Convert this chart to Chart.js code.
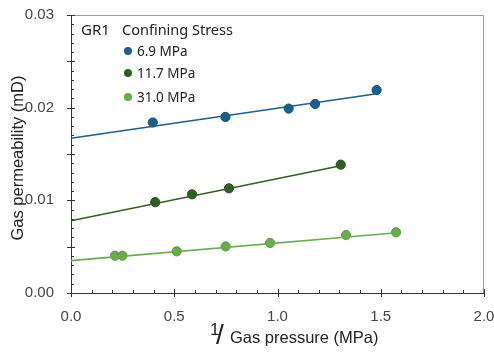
<!DOCTYPE html>
<html>
<head>
<meta charset="utf-8">
<script src="https://cdn.jsdelivr.net/npm/chart.js@4.4.1/dist/chart.umd.min.js"></script>
<style>
  html, body { margin: 0; padding: 0; background: #fff; }
  #wrap { width: 494px; height: 352px; }
</style>
</head>
<body>
<div id="wrap"><canvas id="c" width="494" height="352"></canvas></div>
<script>
// series: [1/pressure, permeability]
var seriesNames = ['6.9 MPa', '11.7 MPa', '31.0 MPa'];
var seriesColors = ['#1b5e8f', '#2f5f22', '#67ae4a'];
var seriesBorders = ['#17507a', '#26501b', '#5a9a3f'];

var x69 = [0.396, 0.748, 1.054, 1.182, 1.48];
var y69 = [0.0184, 0.0190, 0.0199, 0.0204, 0.0219];
var x117 = [0.408, 0.586, 0.765, 1.306];
var y117 = [0.0098, 0.01065, 0.0113, 0.01385];
var x310 = [0.213, 0.249, 0.512, 0.749, 0.964, 1.332, 1.574];
var y310 = [0.00403, 0.00403, 0.0045, 0.00503, 0.0054, 0.00626, 0.00655];

// linear fit endpoints
var fitX69 = [0, 1.48], fitY69 = [0.0167, 0.0215];
var fitX117 = [0, 1.30], fitY117 = [0.0078, 0.0137];
var fitX310 = [0, 1.58], fitY310 = [0.00349, 0.0065];

var yTicks = [0, 0.01, 0.02, 0.03];
var xTicks = [0, 0.5, 1.0, 1.5, 2.0];

function pts(xs, ys) {
  return xs.map(function(x, i) { return { x: x, y: ys[i] }; });
}

var pointSets = [pts(x69, y69), pts(x117, y117), pts(x310, y310)];
var fitSets = [pts(fitX69, fitY69), pts(fitX117, fitY117), pts(fitX310, fitY310)];

var datasets = [];
fitSets.forEach(function(d, i) {
  datasets.push({
    label: seriesNames[i] + ' fit', data: d, showLine: true,
    borderColor: seriesColors[i], borderWidth: 1.6, pointRadius: 0, fill: false
  });
});
pointSets.forEach(function(d, i) {
  datasets.push({
    label: seriesNames[i], data: d, showLine: false,
    backgroundColor: seriesColors[i], borderColor: seriesBorders[i],
    borderWidth: 1, pointRadius: 4.6
  });
});

var tickFont = { family: 'Liberation Sans, Arial, sans-serif', size: 15 };

var decor = {
  id: 'decor',
  afterDraw: function(chart) {
    var ctx = chart.ctx, a = chart.chartArea;
    var xs = chart.scales.x, ys = chart.scales.y;
    ctx.save();
    // top / right frame
    ctx.strokeStyle = '#9a9a9a';
    ctx.lineWidth = 1;
    ctx.beginPath();
    ctx.moveTo(a.left, a.top + 0.5);
    ctx.lineTo(a.right - 0.5, a.top + 0.5);
    ctx.lineTo(a.right - 0.5, a.bottom);
    ctx.stroke();

    // ticks
    ctx.strokeStyle = '#333';
    ctx.beginPath();
    var v, p;
    for (var i = 0; i <= 30; i++) {
      v = i * 0.001;
      p = Math.round(ys.getPixelForValue(v)) + 0.5;
      if (i % 5 === 0) {
        ctx.moveTo(a.left - 4, p); ctx.lineTo(a.left + 4, p);
      } else {
        ctx.moveTo(a.left, p); ctx.lineTo(a.left + 3, p);
      }
    }
    for (var j = 0; j <= 20; j++) {
      v = j * 0.1;
      p = Math.round(xs.getPixelForValue(v)) + 0.5;
      if (j % 5 === 0) {
        ctx.moveTo(p, a.bottom + 4); ctx.lineTo(p, a.bottom - 4);
      } else {
        ctx.moveTo(p, a.bottom); ctx.lineTo(p, a.bottom - 3);
      }
    }
    ctx.stroke();

    // y axis title
    ctx.fillStyle = '#222';
    ctx.font = '16.5px Liberation Sans, Arial, sans-serif';
    ctx.textAlign = 'center';
    ctx.textBaseline = 'middle';
    ctx.save();
    ctx.translate(18, (a.top + a.bottom) / 2 + 4);
    ctx.rotate(-Math.PI / 2);
    ctx.fillText('Gas permeability (mD)', 0, 0);
    ctx.restore();

    // x axis title  1/Gas pressure (MPa)
    ctx.textAlign = 'left';
    ctx.textBaseline = 'alphabetic';
    ctx.font = '17px Liberation Sans, Arial, sans-serif';
    ctx.fillText('1', 210, 335);
    ctx.font = '28px Liberation Sans, Arial, sans-serif';
    ctx.fillText('/', 216, 344);
    ctx.font = '16.5px Liberation Sans, Arial, sans-serif';
    ctx.fillText('Gas pressure (MPa)', 230, 343);

    // legend
    ctx.fillStyle = '#222';
    ctx.font = '15px Noto Sans, Open Sans, sans-serif';
    ctx.fillText('GR1', 81, 35);
    ctx.font = '14.5px Noto Sans, Open Sans, sans-serif';
    ctx.fillText('Confining Stress', 122, 35);
    var ly = [51, 73, 97];
    ctx.font = '13.5px Noto Sans, Open Sans, sans-serif';
    for (var k = 0; k < seriesNames.length; k++) {
      ctx.beginPath();
      ctx.fillStyle = seriesColors[k];
      ctx.arc(128, ly[k], 4, 0, Math.PI * 2);
      ctx.fill();
      ctx.fillStyle = '#222';
      ctx.textBaseline = 'middle';
      ctx.fillText(seriesNames[k], 137, ly[k] + 1);
    }
    ctx.restore();
  }
};

new Chart(document.getElementById('c'), {
  type: 'scatter',
  data: { datasets: datasets },
  options: {
    responsive: false,
    animation: false,
    layout: { padding: { top: 15, right: 10, left: 0, bottom: 0 } },
    plugins: { legend: { display: false }, tooltip: { enabled: false } },
    scales: {
      x: {
        type: 'linear', min: 0, max: 2,
        grid: { display: false },
        border: { display: true, color: '#333', width: 1 },
        afterBuildTicks: function(s) { s.ticks = xTicks.map(function(v) { return { value: v }; }); },
        afterFit: function(s) { s.height = 59; s.paddingLeft = 0; s.paddingRight = 0; },
        ticks: {
          color: '#444', font: tickFont, padding: 7, maxRotation: 0,
          callback: function(v) { return v.toFixed(1); }
        }
      },
      y: {
        type: 'linear', min: 0, max: 0.03,
        grid: { display: false },
        border: { display: true, color: '#333', width: 1 },
        afterBuildTicks: function(s) { s.ticks = yTicks.map(function(v) { return { value: v }; }); },
        afterFit: function(s) { s.width = 71; s.paddingTop = 0; s.paddingBottom = 0; },
        ticks: {
          color: '#444', font: tickFont, padding: 9,
          callback: function(v) { return v.toFixed(2); }
        }
      }
    }
  },
  plugins: [decor]
});
</script>
</body>
</html>
